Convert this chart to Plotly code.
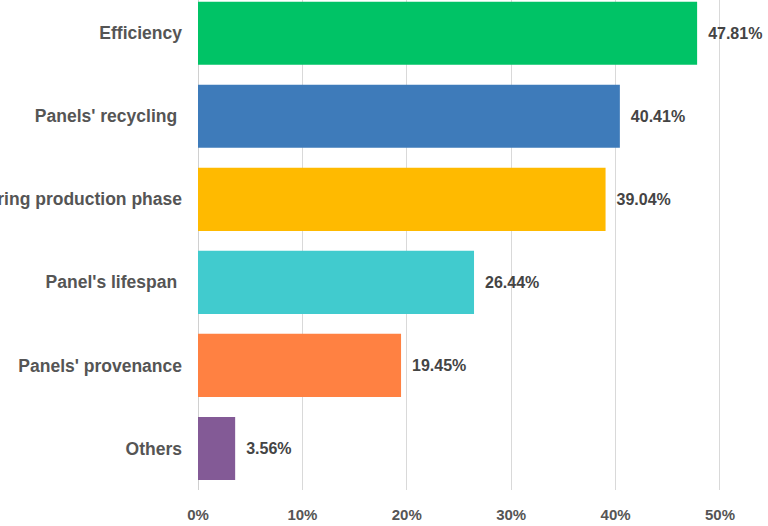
import plotly.graph_objects as go

categories = ["Efficiency", "Panels' recycling ", "Emissions during production phase",
              "Panel's lifespan ", "Panels' provenance", "Others"]
values = [47.81, 40.41, 39.04, 26.44, 19.45, 3.56]
colors = ["#00C366", "#3E7BBA", "#FFBA00", "#41CBCE", "#FF8142", "#835A96"]
x_ticks = [0, 10, 20, 30, 40, 50]
x_tick_labels = ["0%", "10%", "20%", "30%", "40%", "50%"]

cats = categories[::-1]
vals = values[::-1]
cols = colors[::-1]

FONT = "Liberation Sans, Arial"

fig = go.Figure(go.Bar(
    y=cats, x=vals, orientation="h",
    marker=dict(color=cols, line=dict(width=0)),
    text=[f"\u2002{v:.2f}%" for v in vals],
    textposition="outside",
    textfont=dict(family=FONT, size=16, color="#444444", weight="bold"),
    cliponaxis=False,
))

fig.update_layout(
    width=768, height=526,
    margin=dict(l=198, r=0, t=0, b=36, autoexpand=False),
    paper_bgcolor="white", plot_bgcolor="white",
    bargap=0.24,
    showlegend=False,
    font=dict(family=FONT, size=16, color="#555555"),
)
fig.update_xaxes(
    range=[0, 54.6], automargin=False,
    tickmode="array", tickvals=x_ticks, ticktext=x_tick_labels,
    showgrid=True, gridcolor="#D9D9D9", gridwidth=1,
    zeroline=True, zerolinecolor="#D0D0D0", zerolinewidth=1,
    showline=False,
    tickfont=dict(family=FONT, size=15, color="#555555", weight="bold"),
    ticklabelstandoff=14,
)
fig.update_yaxes(
    categoryorder="array", categoryarray=cats,
    range=[-0.5, 5.4], automargin=False,
    showgrid=False, showline=False, zeroline=False,
    ticks="", ticklabelstandoff=15,
    tickfont=dict(family=FONT, size=17.5, color="#555555", weight="bold"),
)

fig.write_html("out.html")
